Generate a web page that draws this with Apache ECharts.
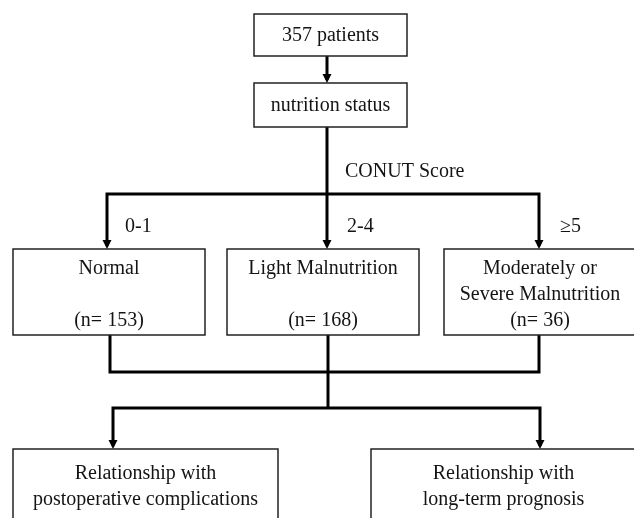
<!DOCTYPE html>
<html>
<head>
<meta charset="utf-8">
<script src="https://cdn.jsdelivr.net/npm/echarts@6/dist/echarts.min.js"></script>
<style>
html, body { margin: 0; padding: 0; background: #fff; }
#flow { width: 634px; height: 518px; }
</style>
</head>
<body>
<div id="flow"></div>
<script>
// chart content
var totalPatients = 357;
var stageTitle = 'nutrition status';
var scoreName = 'CONUT Score';
var scoreRanges = ['0-1', '2-4', '≥5'];
var groupNames = ['Normal', 'Light Malnutrition', 'Moderately or\nSevere Malnutrition'];
var groupCounts = [153, 168, 36];
var outcomes = ['Relationship with\npostoperative complications', 'Relationship with\nlong-term prognosis'];

// layout, in the pixel space of the hidden axes: [x0, y0, x1, y1, text centre y]
var topFrames = [[254, 14, 407, 56, 36], [254, 83, 407, 127, 106]];
var groupFrames = [[13, 249, 205, 335, 295], [227, 249, 419, 335, 295], [444, 249, 636, 335, 295]];
var outcomeFrames = [[13, 449, 278, 530, 487], [371, 449, 636, 530, 487]];
var rangeLabelPos = [[125, 227], [347, 227], [560, 227]];
var scoreLabelPos = [345, 172];

// connectors: point lists, arrow at the end when the flag is set
var connectors = [
    { pts: [[327, 56], [327, 83]], arrow: true },
    { pts: [[327, 127], [327, 249]], arrow: true },
    { pts: [[327, 194], [107, 194], [107, 249]], arrow: true },
    { pts: [[327, 194], [539, 194], [539, 249]], arrow: true },
    { pts: [[110, 335], [110, 372], [539, 372], [539, 335]], arrow: false },
    { pts: [[328, 335], [328, 408]], arrow: false },
    { pts: [[328, 408], [113, 408], [113, 449]], arrow: true },
    { pts: [[328, 408], [540, 408], [540, 449]], arrow: true }
];

var FONT = '20px "Liberation Serif", "Times New Roman", serif';
var INK = '#141414';

// build the box table from the content arrays
var boxes = [];
boxes.push({ f: topFrames[0], text: totalPatients + ' patients' });
boxes.push({ f: topFrames[1], text: stageTitle });
groupNames.forEach(function (name, i) {
    var gap = name.indexOf('\n') >= 0 ? '\n' : '\n\n';
    boxes.push({ f: groupFrames[i], text: name + gap + '(n= ' + groupCounts[i] + ')' });
});
outcomes.forEach(function (o, i) {
    boxes.push({ f: outcomeFrames[i], text: o });
});

var labels = [{ p: scoreLabelPos, text: scoreName }];
scoreRanges.forEach(function (r, i) {
    labels.push({ p: rangeLabelPos[i], text: r });
});

function renderBox(params, api) {
    var b = boxes[api.value(0)];
    var f = b.f;
    var p0 = api.coord([f[0], f[1]]);
    var p1 = api.coord([f[2], f[3]]);
    var tc = api.coord([(f[0] + f[2]) / 2, f[4]]);
    return {
        type: 'group',
        children: [
            {
                type: 'rect',
                shape: { x: p0[0], y: p0[1], width: p1[0] - p0[0], height: p1[1] - p0[1] },
                style: { fill: '#fff', stroke: '#222', lineWidth: 1.5 }
            },
            {
                type: 'text',
                x: tc[0],
                y: tc[1],
                style: {
                    text: b.text, font: FONT, fill: INK,
                    align: 'center', verticalAlign: 'middle', lineHeight: 26
                }
            }
        ]
    };
}

function renderConnector(params, api) {
    var c = connectors[api.value(0)];
    var pts = c.pts.map(function (p) { return api.coord(p); });
    var children = [];
    var linePts = pts.slice();
    if (c.arrow) {
        var a = pts[pts.length - 2], b = pts[pts.length - 1];
        var dx = b[0] - a[0], dy = b[1] - a[1];
        var len = Math.sqrt(dx * dx + dy * dy);
        var ux = dx / len, uy = dy / len;
        var head = 9, half = 4.5;
        var base = [b[0] - ux * head, b[1] - uy * head];
        linePts[linePts.length - 1] = [b[0] - ux * 3, b[1] - uy * 3];
        children.push({
            type: 'polygon',
            z2: 2,
            shape: { points: [b, [base[0] - uy * half, base[1] + ux * half], [base[0] + uy * half, base[1] - ux * half]] },
            style: { fill: '#000' }
        });
    }
    children.unshift({
        type: 'polyline',
        shape: { points: linePts },
        style: { stroke: '#000', lineWidth: 3, fill: null, lineJoin: 'miter' }
    });
    return { type: 'group', children: children };
}

function renderLabel(params, api) {
    var l = labels[api.value(0)];
    var p = api.coord(l.p);
    return {
        type: 'text',
        x: p[0],
        y: p[1],
        style: { text: l.text, font: FONT, fill: INK, align: 'left', verticalAlign: 'middle' }
    };
}

var myChart = echarts.init(document.getElementById('flow'), null, { renderer: 'canvas' });

var option = {
    backgroundColor: '#fff',
    animation: false,
    grid: { left: 0, right: 0, top: 0, bottom: 0 },
    xAxis: { type: 'value', min: 0, max: 634, show: false },
    yAxis: { type: 'value', min: 0, max: 518, inverse: true, show: false },
    series: [
        {
            type: 'custom',
            name: 'connectors',
            renderItem: renderConnector,
            data: connectors.map(function (c, i) { return [i, 0]; }),
            z: 1
        },
        {
            type: 'custom',
            name: 'boxes',
            renderItem: renderBox,
            data: boxes.map(function (b, i) { return [i, 0]; }),
            z: 2
        },
        {
            type: 'custom',
            name: 'labels',
            renderItem: renderLabel,
            data: labels.map(function (l, i) { return [i, 0]; }),
            z: 3
        }
    ]
};
myChart.setOption(option);
</script>
</body>
</html>
